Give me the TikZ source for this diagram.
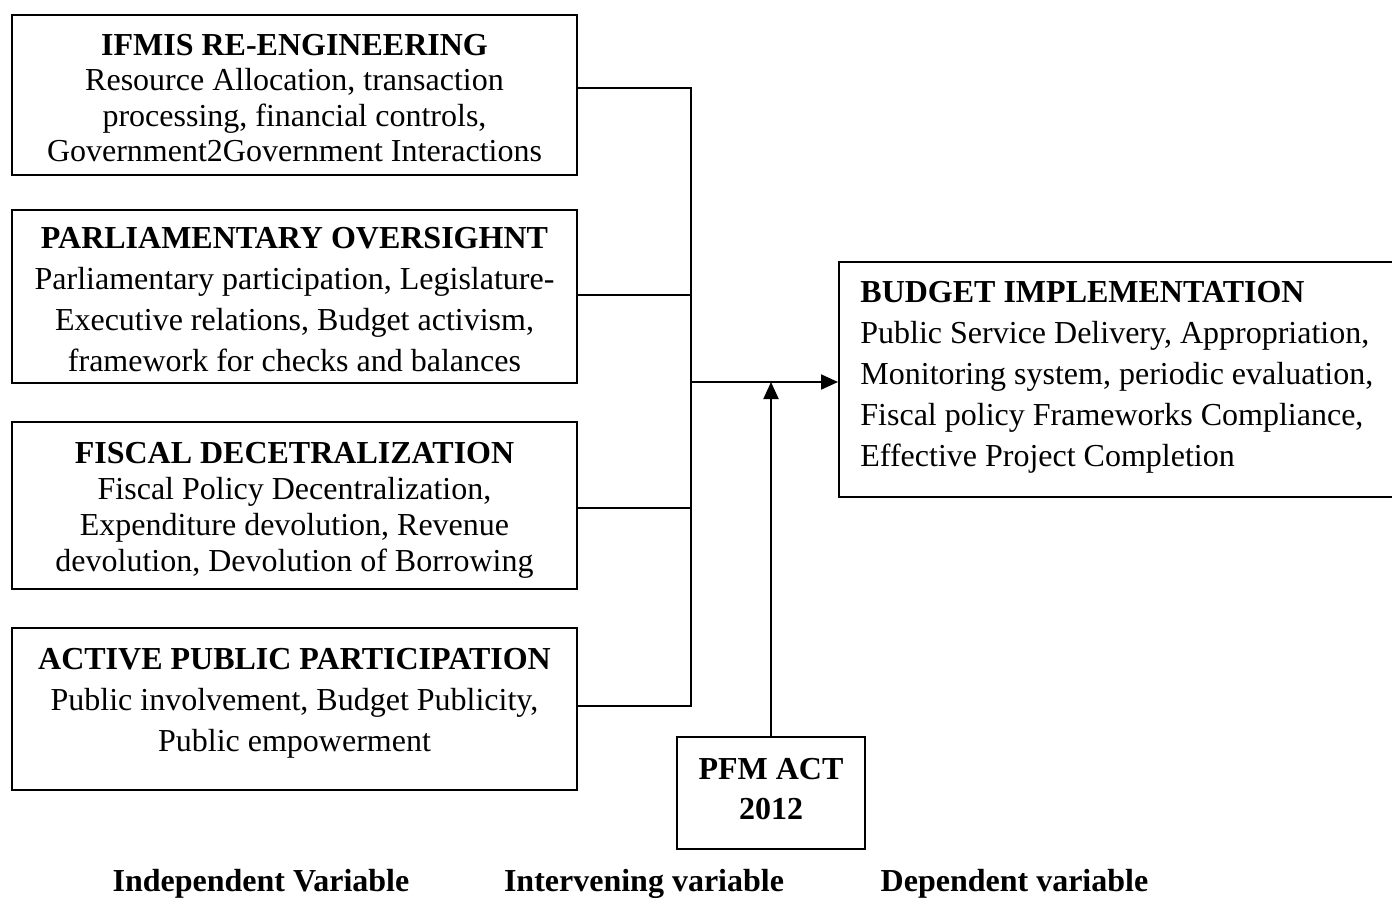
\documentclass[tikz,border=0pt]{standalone}
\usepackage{fontspec}
\setmainfont{Liberation Serif}
\usetikzlibrary{arrows.meta}

\begin{document}
\begin{tikzpicture}[x=0.5pt,y=-0.5pt,
  box/.style={draw,line width=1pt,inner sep=0pt,minimum width=282.5pt},
  txt/.style={inner sep=0pt,align=center},
  conn/.style={line width=1pt},
  arr/.style={line width=1pt,-{Triangle[length=8.5pt,width=7.5pt]}},
  fs/.style={font=\fontsize{16}{#1}\selectfont}]
\useasboundingbox (0,0) rectangle (1392,900);

% independent variables
\node[box,minimum height=80pt]   (b1) at (294.5,95)  {};
\node[box,minimum height=86.5pt] (b2) at (294.5,296) {};
\node[box,minimum height=83.5pt] (b3) at (294.5,505.5) {};
\node[box,minimum height=81pt]   (b4) at (294.5,709) {};

\node[txt,fs=17.75pt] (t1) at (294.5,98) {\textbf{IFMIS RE-ENGINEERING}\\
  Resource Allocation, transaction\\ processing, financial controls,\\
  Government2Government Interactions};
\node[txt,fs=20.5pt] (t2) at (294.5,300) {\textbf{PARLIAMENTARY OVERSIGHNT}\\
  Parliamentary participation, Legislature-\\ Executive relations, Budget activism,\\
  framework for checks and balances};
\node[txt,fs=18pt] (t3) at (294.5,510) {\textbf{FISCAL DECETRALIZATION}\\
  Fiscal Policy Decentralization,\\ Expenditure devolution, Revenue\\
  devolution, Devolution of Borrowing};
\node[txt,fs=20.5pt] (t4) at (294.5,703) {\textbf{ACTIVE PUBLIC PARTICIPATION}\\
  Public involvement, Budget Publicity,\\ Public empowerment};

% dependent variable
\node[draw,line width=1pt,inner sep=0pt,minimum width=280pt,minimum height=117.5pt]
  (r) at (1119,379.5) {};
\node[txt,align=left,anchor=west,fs=20.5pt] (rt) at (860,377.5)
  {\textbf{BUDGET IMPLEMENTATION}\\
   Public Service Delivery, Appropriation,\\
   Monitoring system, periodic evaluation,\\
   Fiscal policy Frameworks Compliance,\\
   Effective Project Completion};

% intervening variable
\node[draw,line width=1pt,inner sep=0pt,minimum width=94pt,minimum height=56pt,
  txt,font=\bfseries\fontsize{16}{20pt}\selectfont] (p) at (771,793)
  {PFM ACT\\ 2012\rule[-4pt]{0pt}{0pt}};

% bus joining the four boxes
\coordinate (top) at (691,88);
\coordinate (bot) at (691,706);
\coordinate (j) at (691,382);
\draw[conn] ([yshift=3.5pt]b1.east) -- (top) -- (bot) -- ([yshift=1.5pt]b4.east);
\draw[conn] ([yshift=0.5pt]b2.east) -- ([yshift=0.5pt]b2.east -| top);
\draw[conn] ([yshift=-1.25pt]b3.east) -- ([yshift=-1.25pt]b3.east -| top);
\draw[arr] (j) -- (j -| r.west);
\draw[arr] (p.north) -- (p.north |- j);

% column captions
\begin{scope}[every node/.style={font=\bfseries\fontsize{16}{19}\selectfont,inner sep=0pt}]
\node (c1) at (261,884) {Independent Variable};
\node (c2) at (644,884) {Intervening variable};
\node (c3) at (1014.5,884) {Dependent variable};
\end{scope}
\end{tikzpicture}
\end{document}
